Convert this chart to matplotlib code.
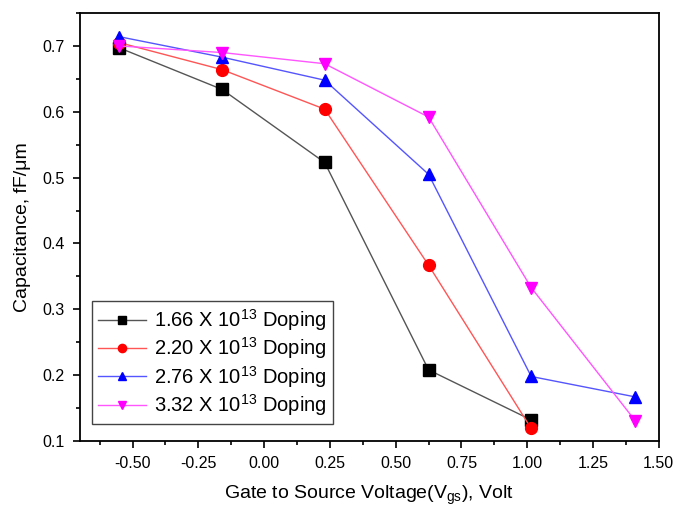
import numpy as np
import matplotlib
matplotlib.use('Agg')
import matplotlib.pyplot as plt
from matplotlib.ticker import MultipleLocator

# data
vgs = [-0.55, -0.16, 0.23, 0.625, 1.015, 1.41]
cap_166 = [0.697, 0.634, 0.523, 0.208, 0.132]
cap_220 = [0.705, 0.664, 0.604, 0.367, 0.119]
cap_276 = [0.714, 0.683, 0.648, 0.505, 0.198, 0.167]
cap_332 = [0.700, 0.690, 0.673, 0.592, 0.333, 0.131]
labels = ['1.66 X 10$^{13}$ Doping', '2.20 X 10$^{13}$ Doping',
          '2.76 X 10$^{13}$ Doping', '3.32 X 10$^{13}$ Doping']

plt.rcParams['font.family'] = ['Liberation Sans', 'DejaVu Sans']
plt.rcParams['mathtext.fontset'] = 'custom'
plt.rcParams['mathtext.rm'] = 'Liberation Sans'
plt.rcParams['mathtext.it'] = 'Liberation Sans'
plt.rcParams['axes.unicode_minus'] = False

fig = plt.figure(figsize=(6.75, 5.11), dpi=100)
ax = fig.add_axes([0.1185, 0.137, 0.8575, 0.8375])

series = [cap_166, cap_220, cap_276, cap_332]
line_cols = ['#555555', '#ff5555', '#5555ff', '#ff55ff']
mark_cols = ['black', 'red', 'blue', 'magenta']
markers = ['s', 'o', '^', 'v']
for ys, lc, mc, m, lab in zip(series, line_cols, mark_cols, markers, labels):
    ax.plot(vgs[:len(ys)], ys, color=lc, lw=1, marker=m, ms=8.5,
            mfc=mc, mec=mc, label=lab)

ax.set_xlim(-0.70, 1.50)
ax.set_ylim(0.1, 0.75)
ax.xaxis.set_minor_locator(MultipleLocator(0.125))
ax.yaxis.set_minor_locator(MultipleLocator(0.05))
ax.set_xticks(np.arange(-0.5, 1.51, 0.25))
ax.set_yticks(np.arange(0.1, 0.71, 0.1))
ax.tick_params(which='major', direction='out', length=5, width=1.2,
               labelsize=11.5, pad=6)
ax.tick_params(which='minor', direction='out', length=3, width=1.2)
for s in ax.spines.values():
    s.set_linewidth(1.3)

ax.set_xlabel('Gate to Source Voltage(V$_{gs}$), Volt', fontsize=14, labelpad=9)
ax.set_ylabel('Capacitance, fF/\u03bcm', fontsize=14, labelpad=8)

leg = ax.legend(loc='lower left', bbox_to_anchor=(0.003, 0.016), fontsize=14.5,
                fancybox=False, edgecolor='#444444', framealpha=1,
                handlelength=2.4, handletextpad=0.4, labelspacing=0.12,
                borderpad=0.3, markerscale=0.7)
leg.get_frame().set_linewidth(1)

plt.savefig('out.png', dpi=100)
